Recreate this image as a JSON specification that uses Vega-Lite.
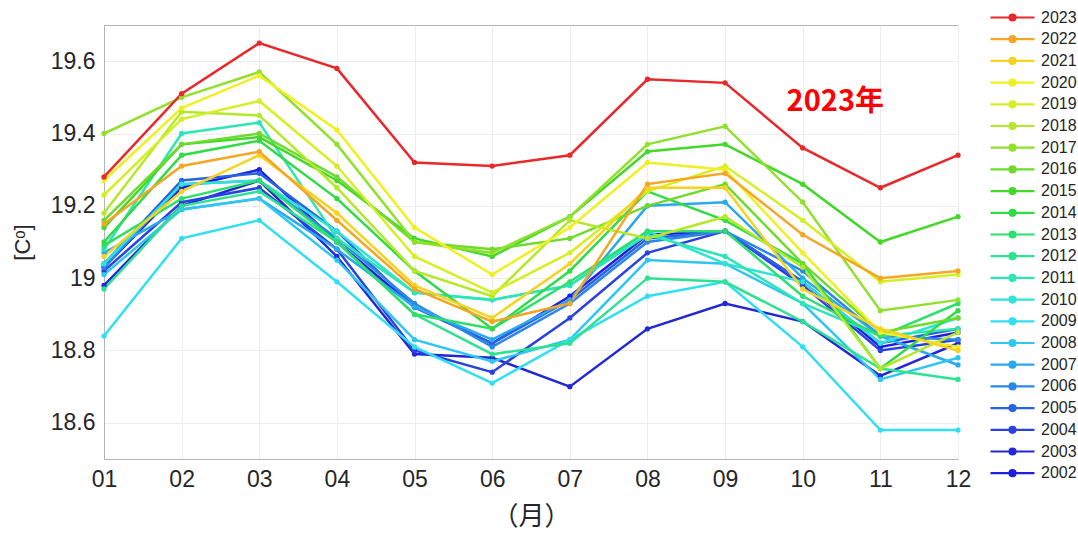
{
  "$schema": "https://vega.github.io/schema/vega-lite/v6.json",
  "width": 854,
  "height": 434,
  "autosize": {"type": "none"},
  "padding": {"left": 104, "top": 25, "right": 120, "bottom": 75},
  "background": "white",
  "config": {
    "view": {"stroke": "#b4b4b4", "strokeWidth": 1},
    "font": "Liberation Sans",
    "axis": {
      "labelFont": "Liberation Sans",
      "labelFontSize": 23,
      "labelColor": "#262626",
      "titleColor": "#262626",
      "titleFontWeight": "normal",
      "gridColor": "#ededed",
      "gridWidth": 1,
      "domainColor": "#b4b4b4",
      "ticks": false,
      "labelFlush": false,
      "labelOverlap": false
    }
  },
  "datasets": {
    "temps": [
      {"year":"2002","month":1,"temp":19.03},{"year":"2002","month":2,"temp":19.25},{"year":"2002","month":3,"temp":19.30},{"year":"2002","month":4,"temp":19.10},{"year":"2002","month":5,"temp":18.92},{"year":"2002","month":6,"temp":18.82},{"year":"2002","month":7,"temp":18.95},{"year":"2002","month":8,"temp":19.12},{"year":"2002","month":9,"temp":19.13},{"year":"2002","month":10,"temp":18.99},{"year":"2002","month":11,"temp":18.81},{"year":"2002","month":12,"temp":18.85},
      {"year":"2003","month":1,"temp":18.98},{"year":"2003","month":2,"temp":19.20},{"year":"2003","month":3,"temp":19.27},{"year":"2003","month":4,"temp":19.06},{"year":"2003","month":5,"temp":18.79},{"year":"2003","month":6,"temp":18.78},{"year":"2003","month":7,"temp":18.70},{"year":"2003","month":8,"temp":18.86},{"year":"2003","month":9,"temp":18.93},{"year":"2003","month":10,"temp":18.88},{"year":"2003","month":11,"temp":18.73},{"year":"2003","month":12,"temp":18.82},
      {"year":"2004","month":1,"temp":19.02},{"year":"2004","month":2,"temp":19.21},{"year":"2004","month":3,"temp":19.25},{"year":"2004","month":4,"temp":19.08},{"year":"2004","month":5,"temp":18.80},{"year":"2004","month":6,"temp":18.74},{"year":"2004","month":7,"temp":18.89},{"year":"2004","month":8,"temp":19.07},{"year":"2004","month":9,"temp":19.13},{"year":"2004","month":10,"temp":18.98},{"year":"2004","month":11,"temp":18.80},{"year":"2004","month":12,"temp":18.83},
      {"year":"2005","month":1,"temp":19.04},{"year":"2005","month":2,"temp":19.27},{"year":"2005","month":3,"temp":19.29},{"year":"2005","month":4,"temp":19.13},{"year":"2005","month":5,"temp":18.92},{"year":"2005","month":6,"temp":18.82},{"year":"2005","month":7,"temp":18.94},{"year":"2005","month":8,"temp":19.11},{"year":"2005","month":9,"temp":19.13},{"year":"2005","month":10,"temp":18.99},{"year":"2005","month":11,"temp":18.82},{"year":"2005","month":12,"temp":18.86},
      {"year":"2006","month":1,"temp":19.03},{"year":"2006","month":2,"temp":19.26},{"year":"2006","month":3,"temp":19.27},{"year":"2006","month":4,"temp":19.11},{"year":"2006","month":5,"temp":18.93},{"year":"2006","month":6,"temp":18.81},{"year":"2006","month":7,"temp":18.93},{"year":"2006","month":8,"temp":19.10},{"year":"2006","month":9,"temp":19.13},{"year":"2006","month":10,"temp":19.02},{"year":"2006","month":11,"temp":18.84},{"year":"2006","month":12,"temp":18.83},
      {"year":"2007","month":1,"temp":19.07},{"year":"2007","month":2,"temp":19.19},{"year":"2007","month":3,"temp":19.22},{"year":"2007","month":4,"temp":19.08},{"year":"2007","month":5,"temp":18.92},{"year":"2007","month":6,"temp":18.83},{"year":"2007","month":7,"temp":18.94},{"year":"2007","month":8,"temp":19.20},{"year":"2007","month":9,"temp":19.21},{"year":"2007","month":10,"temp":19.00},{"year":"2007","month":11,"temp":18.84},{"year":"2007","month":12,"temp":18.76},
      {"year":"2008","month":1,"temp":19.01},{"year":"2008","month":2,"temp":19.19},{"year":"2008","month":3,"temp":19.22},{"year":"2008","month":4,"temp":19.05},{"year":"2008","month":5,"temp":18.83},{"year":"2008","month":6,"temp":18.77},{"year":"2008","month":7,"temp":18.83},{"year":"2008","month":8,"temp":19.05},{"year":"2008","month":9,"temp":19.04},{"year":"2008","month":10,"temp":18.93},{"year":"2008","month":11,"temp":18.72},{"year":"2008","month":12,"temp":18.78},
      {"year":"2009","month":1,"temp":18.84},{"year":"2009","month":2,"temp":19.11},{"year":"2009","month":3,"temp":19.16},{"year":"2009","month":4,"temp":18.99},{"year":"2009","month":5,"temp":18.81},{"year":"2009","month":6,"temp":18.71},{"year":"2009","month":7,"temp":18.83},{"year":"2009","month":8,"temp":18.95},{"year":"2009","month":9,"temp":18.99},{"year":"2009","month":10,"temp":18.81},{"year":"2009","month":11,"temp":18.58},{"year":"2009","month":12,"temp":18.58},
      {"year":"2010","month":1,"temp":19.04},{"year":"2010","month":2,"temp":19.26},{"year":"2010","month":3,"temp":19.27},{"year":"2010","month":4,"temp":19.13},{"year":"2010","month":5,"temp":18.96},{"year":"2010","month":6,"temp":18.94},{"year":"2010","month":7,"temp":18.98},{"year":"2010","month":8,"temp":19.13},{"year":"2010","month":9,"temp":19.04},{"year":"2010","month":10,"temp":18.99},{"year":"2010","month":11,"temp":18.82},{"year":"2010","month":12,"temp":18.89},
      {"year":"2011","month":1,"temp":19.08},{"year":"2011","month":2,"temp":19.40},{"year":"2011","month":3,"temp":19.43},{"year":"2011","month":4,"temp":19.11},{"year":"2011","month":5,"temp":18.96},{"year":"2011","month":6,"temp":18.94},{"year":"2011","month":7,"temp":18.98},{"year":"2011","month":8,"temp":19.12},{"year":"2011","month":9,"temp":19.06},{"year":"2011","month":10,"temp":18.93},{"year":"2011","month":11,"temp":18.84},{"year":"2011","month":12,"temp":18.86},
      {"year":"2012","month":1,"temp":18.97},{"year":"2012","month":2,"temp":19.20},{"year":"2012","month":3,"temp":19.24},{"year":"2012","month":4,"temp":19.10},{"year":"2012","month":5,"temp":18.90},{"year":"2012","month":6,"temp":18.79},{"year":"2012","month":7,"temp":18.82},{"year":"2012","month":8,"temp":19.00},{"year":"2012","month":9,"temp":18.99},{"year":"2012","month":10,"temp":18.88},{"year":"2012","month":11,"temp":18.75},{"year":"2012","month":12,"temp":18.72},
      {"year":"2013","month":1,"temp":19.09},{"year":"2013","month":2,"temp":19.22},{"year":"2013","month":3,"temp":19.27},{"year":"2013","month":4,"temp":19.10},{"year":"2013","month":5,"temp":18.90},{"year":"2013","month":6,"temp":18.86},{"year":"2013","month":7,"temp":18.99},{"year":"2013","month":8,"temp":19.13},{"year":"2013","month":9,"temp":19.13},{"year":"2013","month":10,"temp":18.95},{"year":"2013","month":11,"temp":18.84},{"year":"2013","month":12,"temp":18.93},
      {"year":"2014","month":1,"temp":19.10},{"year":"2014","month":2,"temp":19.34},{"year":"2014","month":3,"temp":19.38},{"year":"2014","month":4,"temp":19.22},{"year":"2014","month":5,"temp":19.02},{"year":"2014","month":6,"temp":18.86},{"year":"2014","month":7,"temp":19.02},{"year":"2014","month":8,"temp":19.24},{"year":"2014","month":9,"temp":19.16},{"year":"2014","month":10,"temp":19.04},{"year":"2014","month":11,"temp":18.75},{"year":"2014","month":12,"temp":18.91},
      {"year":"2015","month":1,"temp":19.14},{"year":"2015","month":2,"temp":19.37},{"year":"2015","month":3,"temp":19.39},{"year":"2015","month":4,"temp":19.27},{"year":"2015","month":5,"temp":19.11},{"year":"2015","month":6,"temp":19.06},{"year":"2015","month":7,"temp":19.17},{"year":"2015","month":8,"temp":19.35},{"year":"2015","month":9,"temp":19.37},{"year":"2015","month":10,"temp":19.26},{"year":"2015","month":11,"temp":19.10},{"year":"2015","month":12,"temp":19.17},
      {"year":"2016","month":1,"temp":19.16},{"year":"2016","month":2,"temp":19.37},{"year":"2016","month":3,"temp":19.40},{"year":"2016","month":4,"temp":19.28},{"year":"2016","month":5,"temp":19.10},{"year":"2016","month":6,"temp":19.08},{"year":"2016","month":7,"temp":19.11},{"year":"2016","month":8,"temp":19.20},{"year":"2016","month":9,"temp":19.26},{"year":"2016","month":10,"temp":19.04},{"year":"2016","month":11,"temp":18.85},{"year":"2016","month":12,"temp":18.89},
      {"year":"2017","month":1,"temp":19.40},{"year":"2017","month":2,"temp":19.50},{"year":"2017","month":3,"temp":19.57},{"year":"2017","month":4,"temp":19.37},{"year":"2017","month":5,"temp":19.10},{"year":"2017","month":6,"temp":19.07},{"year":"2017","month":7,"temp":19.17},{"year":"2017","month":8,"temp":19.37},{"year":"2017","month":9,"temp":19.42},{"year":"2017","month":10,"temp":19.21},{"year":"2017","month":11,"temp":18.91},{"year":"2017","month":12,"temp":18.94},
      {"year":"2018","month":1,"temp":19.18},{"year":"2018","month":2,"temp":19.46},{"year":"2018","month":3,"temp":19.45},{"year":"2018","month":4,"temp":19.25},{"year":"2018","month":5,"temp":19.02},{"year":"2018","month":6,"temp":18.95},{"year":"2018","month":7,"temp":19.16},{"year":"2018","month":8,"temp":19.11},{"year":"2018","month":9,"temp":19.17},{"year":"2018","month":10,"temp":19.03},{"year":"2018","month":11,"temp":18.75},{"year":"2018","month":12,"temp":18.85},
      {"year":"2019","month":1,"temp":19.23},{"year":"2019","month":2,"temp":19.44},{"year":"2019","month":3,"temp":19.49},{"year":"2019","month":4,"temp":19.31},{"year":"2019","month":5,"temp":19.06},{"year":"2019","month":6,"temp":18.96},{"year":"2019","month":7,"temp":19.07},{"year":"2019","month":8,"temp":19.24},{"year":"2019","month":9,"temp":19.31},{"year":"2019","month":10,"temp":19.16},{"year":"2019","month":11,"temp":18.99},{"year":"2019","month":12,"temp":19.01},
      {"year":"2020","month":1,"temp":19.27},{"year":"2020","month":2,"temp":19.47},{"year":"2020","month":3,"temp":19.56},{"year":"2020","month":4,"temp":19.41},{"year":"2020","month":5,"temp":19.14},{"year":"2020","month":6,"temp":19.01},{"year":"2020","month":7,"temp":19.14},{"year":"2020","month":8,"temp":19.32},{"year":"2020","month":9,"temp":19.30},{"year":"2020","month":10,"temp":19.07},{"year":"2020","month":11,"temp":18.85},{"year":"2020","month":12,"temp":18.81},
      {"year":"2021","month":1,"temp":19.06},{"year":"2021","month":2,"temp":19.24},{"year":"2021","month":3,"temp":19.34},{"year":"2021","month":4,"temp":19.18},{"year":"2021","month":5,"temp":18.98},{"year":"2021","month":6,"temp":18.89},{"year":"2021","month":7,"temp":19.04},{"year":"2021","month":8,"temp":19.25},{"year":"2021","month":9,"temp":19.25},{"year":"2021","month":10,"temp":18.97},{"year":"2021","month":11,"temp":18.86},{"year":"2021","month":12,"temp":18.80},
      {"year":"2022","month":1,"temp":19.15},{"year":"2022","month":2,"temp":19.31},{"year":"2022","month":3,"temp":19.35},{"year":"2022","month":4,"temp":19.16},{"year":"2022","month":5,"temp":18.97},{"year":"2022","month":6,"temp":18.88},{"year":"2022","month":7,"temp":18.93},{"year":"2022","month":8,"temp":19.26},{"year":"2022","month":9,"temp":19.29},{"year":"2022","month":10,"temp":19.12},{"year":"2022","month":11,"temp":19.00},{"year":"2022","month":12,"temp":19.02},
      {"year":"2023","month":1,"temp":19.28},{"year":"2023","month":2,"temp":19.51},{"year":"2023","month":3,"temp":19.65},{"year":"2023","month":4,"temp":19.58},{"year":"2023","month":5,"temp":19.32},{"year":"2023","month":6,"temp":19.31},{"year":"2023","month":7,"temp":19.34},{"year":"2023","month":8,"temp":19.55},{"year":"2023","month":9,"temp":19.54},{"year":"2023","month":10,"temp":19.36},{"year":"2023","month":11,"temp":19.25},{"year":"2023","month":12,"temp":19.34}
    ],
    "note": [{"label": "2023年", "month": 10.42, "temp": 19.487}]
  },
  "layer": [
    {
      "data": {"name": "temps"},
      "mark": {"type": "line", "strokeWidth": 2.5, "point": {"filled": true, "size": 28}},
      "encoding": {
        "x": {
          "field": "month", "type": "quantitative",
          "scale": {"domain": [1, 12], "nice": false, "zero": false},
          "axis": {
            "values": [1, 2, 3, 4, 5, 6, 7, 8, 9, 10, 11, 12],
            "labelExpr": "datum.value < 10 ? '0' + datum.value : '' + datum.value",
            "labelPadding": 9,
            "title": "（月）",
            "titleFont": "Noto Sans CJK JP",
            "titleFontSize": 26,
            "titlePadding": 12,
            "grid": true
          }
        },
        "y": {
          "field": "temp", "type": "quantitative",
          "scale": {"domain": [18.5, 19.7], "nice": false, "zero": false},
          "axis": {
            "values": [18.6, 18.8, 19, 19.2, 19.4, 19.6],
            "format": ".1~f",
            "labelPadding": 9,
            "title": "[Cᵒ]",
            "titleFont": "Liberation Sans",
            "titleFontSize": 22,
            "titlePadding": 16,
            "grid": true
          }
        },
        "color": {
          "field": "year", "type": "nominal",
          "scale": {
            "domain": ["2023","2022","2021","2020","2019","2018","2017","2016","2015","2014","2013","2012","2011","2010","2009","2008","2007","2006","2005","2004","2003","2002"],
            "range": ["#e8282a","#f5a623","#f7d21f","#f0f020","#d4ef22","#b6e82a","#92e02e","#6edb2c","#44d82a","#2fdb46","#2ddf6b","#2de290","#2de5b5","#2ee4d6","#30e0f2","#30c6f2","#2ba8ee","#2a88ea","#2a62e6","#2a42e0","#2228d6","#1e1ee0"]
          },
          "legend": {
            "title": null,
            "orient": "none",
            "legendX": 897,
            "legendY": -19,
            "symbolType": "M-2.2,0H2.2M-0.3,0A0.3,0.3,0,1,1,0.3,0A0.3,0.3,0,1,1,-0.3,0Z",
            "symbolSize": 400,
            "symbolStrokeWidth": 2.2,
            "labelFont": "Liberation Sans",
            "labelFontSize": 16,
            "labelColor": "#262626",
            "labelOffset": 17,
            "rowPadding": 1.7
          }
        }
      }
    },
    {
      "data": {"name": "note"},
      "mark": {"type": "text", "font": "Noto Sans CJK JP", "fontWeight": "bold", "fontSize": 29, "color": "#ff0000", "align": "center", "baseline": "middle"},
      "encoding": {
        "x": {"field": "month", "type": "quantitative"},
        "y": {"field": "temp", "type": "quantitative"},
        "text": {"field": "label"}
      }
    }
  ]
}
